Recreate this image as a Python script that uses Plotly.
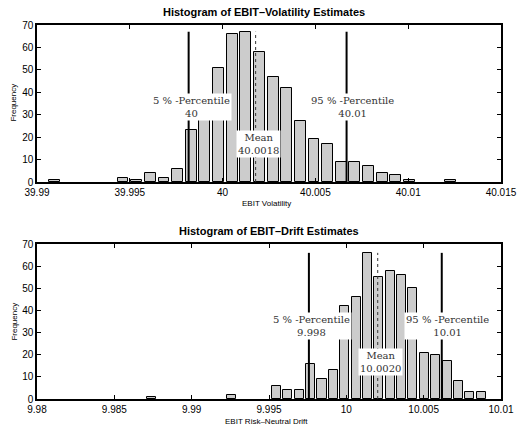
import plotly.graph_objects as go

# ---------------- data ----------------
# Top histogram: EBIT volatility estimates (30 bins)
vol_bin_start = 39.990593
vol_bin_width = 0.000735
vol_counts = [1, 0, 0, 0, 0, 2, 1, 4, 2, 6,
              23, 33, 51, 66, 67, 58, 47, 42, 27, 19,
              17, 9, 9, 7, 4, 3, 1, 0, 0, 1]
vol_p05 = 39.99817
vol_p95 = 40.00668
vol_mean = 40.00178
vol_p05_label = "40"
vol_p95_label = "40.01"
vol_mean_label = "40.0018"
vol_ticks = [39.99, 39.995, 40.0, 40.005, 40.01, 40.015]
vol_ticktext = ["39.99", "39.995", "40", "40.005", "40.01", "40.015"]

# Bottom histogram: EBIT risk-neutral drift estimates (30 bins)
drift_bin_start = 9.987034
drift_bin_width = 0.000735
drift_counts = [1, 0, 0, 0, 0, 0, 0, 2, 0, 0,
                0, 6, 4, 4, 16, 9, 13, 42, 46, 66,
                55, 58, 56, 50, 21, 20, 17, 8, 3, 3]
drift_p05 = 9.99758
drift_p95 = 10.00617
drift_mean = 10.00203
drift_p05_label = "9.998"
drift_p95_label = "10.01"
drift_mean_label = "10.0020"
drift_ticks = [9.98, 9.985, 9.99, 9.995, 10.0, 10.005, 10.01]
drift_ticktext = ["9.98", "9.985", "9.99", "9.995", "10", "10.005", "10.01"]

y_ticks = [0, 10, 20, 30, 40, 50, 60, 70]

# ---------------- figure ----------------
W, H = 529, 429
ML, MR, MT, MB = 37, 16, 25, 30
plot_h = H - MT - MB

def ypaper(px):
    return (H - MB - px) / plot_h

def xpaper(px):
    return (px - ML) / (W - ML - MR)

def clamp(v):
    return min(1.0, max(0.0, v))

fig = go.Figure()

BAR_FILL = "rgb(204,204,204)"
sans = "Liberation Sans, Arial, sans-serif"
serif = "DejaVu Serif, serif"


def add_hist(start, width, counts, p05, p95, mean, xa, ya):
    centers = [start + (i + 0.5) * width for i in range(len(counts))]
    fig.add_trace(go.Bar(
        x=centers, y=counts, width=[0.8 * width] * len(counts),
        marker=dict(color=BAR_FILL,
                    line=dict(color="black",
                              width=[1 if c > 0 else 0 for c in counts])),
        xaxis=xa, yaxis=ya, showlegend=False, hoverinfo="skip"))
    ymax = max(counts)
    for v in (p05, p95):
        fig.add_trace(go.Scatter(
            x=[v, v], y=[0, ymax], mode="lines",
            line=dict(color="black", width=2),
            xaxis=xa, yaxis=ya, showlegend=False, hoverinfo="skip"))
    fig.add_trace(go.Scatter(
        x=[mean, mean], y=[0, ymax], mode="lines",
        line=dict(color="#333333", width=1, dash="dot"),
        xaxis=xa, yaxis=ya, showlegend=False, hoverinfo="skip"))
    return ymax


vmax = add_hist(vol_bin_start, vol_bin_width, vol_counts,
                vol_p05, vol_p95, vol_mean, "x", "y")
dmax = add_hist(drift_bin_start, drift_bin_width, drift_counts,
                drift_p05, drift_p95, drift_mean, "x2", "y2")


def label(x, y, text, xa, ya, xshift=3):
    return dict(x=x, y=y, xref=xa, yref=ya, text=text, showarrow=False,
                font=dict(family=serif, size=10, color="#333333"),
                bgcolor="white", borderpad=1, xanchor="center",
                yanchor="middle", xshift=xshift, align="center")


annotations = [
    label(vol_p05, 0.5 * vmax, "5 % -Percentile<br>" + vol_p05_label, "x", "y"),
    label(vol_p95, 0.5 * vmax, "95 % -Percentile<br>" + vol_p95_label, "x", "y", 6),
    label(vol_mean, 0.25 * vmax, "Mean<br>" + vol_mean_label, "x", "y"),
    label(drift_p05, 0.5 * dmax, "5 % -Percentile<br>" + drift_p05_label, "x2", "y2"),
    label(drift_p95, 0.5 * dmax, "95 % -Percentile<br>" + drift_p95_label, "x2", "y2", 6),
    label(drift_mean, 0.25 * dmax, "Mean<br>" + drift_mean_label, "x2", "y2"),
    # titles
    dict(x=xpaper(270), y=ypaper(12), xref="paper", yref="paper",
         text="Histogram of EBIT–Volatility Estimates", showarrow=False,
         font=dict(family=sans, size=11, color="black", weight="bold"),
         xanchor="center", yanchor="middle"),
    dict(x=xpaper(275), y=ypaper(231), xref="paper", yref="paper",
         text="Histogram of EBIT–Drift Estimates", showarrow=False,
         font=dict(family=sans, size=11, color="black", weight="bold"),
         xanchor="center", yanchor="middle"),
    # axis titles
    dict(x=xpaper(272), y=ypaper(203), xref="paper", yref="paper",
         text="EBIT Volatility", showarrow=False,
         font=dict(family=sans, size=8, color="black"),
         xanchor="center", yanchor="middle"),
    dict(x=xpaper(272), y=ypaper(421), xref="paper", yref="paper",
         text="EBIT Risk–Neutral Drift", showarrow=False,
         font=dict(family=sans, size=8, color="black"),
         xanchor="center", yanchor="middle"),
    dict(x=xpaper(13), y=ypaper(103), xref="paper", yref="paper",
         text="Frequency", showarrow=False, textangle=-90,
         font=dict(family=sans, size=8, color="black"),
         xanchor="center", yanchor="middle"),
    dict(x=xpaper(13), y=ypaper(322), xref="paper", yref="paper",
         text="Frequency", showarrow=False, textangle=-90,
         font=dict(family=sans, size=8, color="black"),
         xanchor="center", yanchor="middle"),
]

axis_common = dict(showgrid=False, zeroline=False, showline=True,
                   linecolor="black", linewidth=1.5, mirror="ticks",
                   ticks="inside", ticklen=4, tickwidth=1, tickcolor="black",
                   tickfont=dict(family=sans, size=10, color="black"))

top_dom = [clamp(ypaper(182)), clamp(ypaper(25))]
bot_dom = [clamp(ypaper(399)), clamp(ypaper(244))]

fig.update_layout(
    width=W, height=H,
    margin=dict(l=ML, r=MR, t=MT, b=MB, pad=0),
    paper_bgcolor="white", plot_bgcolor="white",
    bargap=0, showlegend=False,
    xaxis=dict(domain=[0, 1], range=[39.99, 40.015], anchor="y",
               tickvals=vol_ticks, ticktext=vol_ticktext, **axis_common),
    yaxis=dict(domain=top_dom, range=[0, 70], anchor="x",
               tickvals=y_ticks, **axis_common),
    xaxis2=dict(domain=[0, 1], range=[9.98, 10.01], anchor="y2",
                tickvals=drift_ticks, ticktext=drift_ticktext, **axis_common),
    yaxis2=dict(domain=bot_dom, range=[0, 70], anchor="x2",
                tickvals=y_ticks, **axis_common),
    annotations=annotations,
)

fig.write_html(
    "out.html",
    config={"displayModeBar": False},
    post_script="document.body.style.margin='0px';"
                "document.body.style.overflow='hidden';",
)
